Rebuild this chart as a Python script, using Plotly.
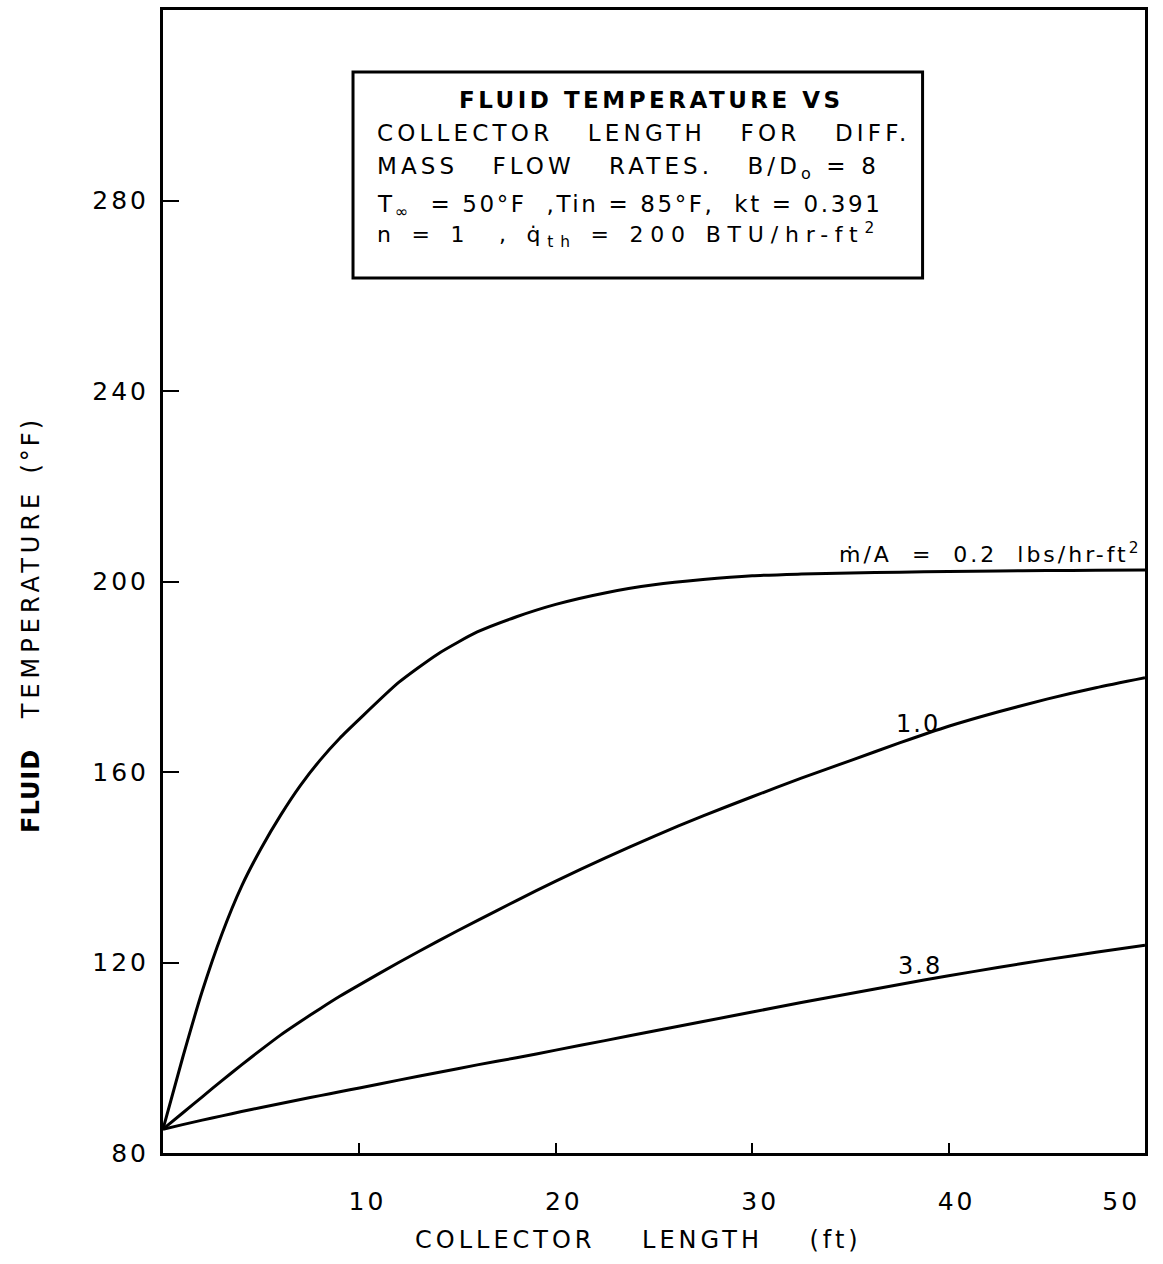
import plotly.graph_objects as go

# Collector length (ft) at which each curve is sampled
length_ft = [0, 1, 2, 3, 4, 5, 6, 7, 8, 9, 10, 12, 14, 16, 18, 20,
             22.5, 25, 27.5, 30, 32.5, 35, 37.5, 40, 42.5, 45, 47.5, 50]

# Fluid temperature (°F) for each mass flow rate (lbs/hr-ft²)
temp_m02 = [85, 100, 114, 126, 136, 144, 151, 157.2, 162.5, 167.1, 171.1,
            178.8, 184.8, 189.4, 192.6, 195.2, 197.6, 199.3, 200.4, 201.2,
            201.55, 201.8, 201.95, 202.1, 202.2, 202.3, 202.35, 202.4]
temp_m10 = [85, 88.4, 91.8, 95.2, 98.5, 101.7, 104.8, 107.6, 110.3, 112.9, 115.3,
            120, 124.5, 128.8, 133.0, 137.1, 141.9, 146.5, 150.8, 154.8,
            158.7, 162.4, 166.1, 169.6, 172.6, 175.3, 177.7, 179.8]
temp_m38 = [85, 85.95, 86.9, 87.8, 88.7, 89.55, 90.4, 91.25, 92.05, 92.85, 93.65,
            95.3, 96.9, 98.5, 100, 101.6, 103.6, 105.6, 107.6, 109.6,
            111.6, 113.5, 115.4, 117.2, 118.95, 120.6, 122.15, 123.6]

x_ticks = [10, 20, 30, 40, 50]
x_tick_text = ["10", "20", "30", "40", "50"]
y_ticks = [80, 120, 160, 200, 240, 280]
y_tick_text = ["80", "120", "160", "200", "240", "280"]

FONT = "DejaVu Sans"
INK = "black"


def spaced(text, px):
    """Wrap text in a span with extra letter spacing (stencil-style lettering)."""
    return f'<span style="letter-spacing:{px}px">{text}</span>'


fig = go.Figure()
for series in (temp_m02, temp_m10, temp_m38):
    fig.add_trace(go.Scatter(
        x=length_ft, y=series, mode="lines",
        line=dict(color=INK, width=3, shape="spline", smoothing=0.6),
        hoverinfo="skip"))

# the last x label is pulled left so it sits inside the right frame edge
x_labels = [spaced(t, 3) for t in x_tick_text]
x_labels[-1] = x_labels[-1] + "\u00a0" * 8

fig.update_layout(
    width=1163, height=1264,
    margin=dict(l=163, r=18, t=10, b=111),
    paper_bgcolor="white", plot_bgcolor="white",
    showlegend=False,
    font=dict(family=FONT, color=INK),
    xaxis=dict(range=[0, 50], tickvals=x_ticks, ticktext=x_labels,
               ticks="inside", ticklen=10, tickwidth=2, tickcolor=INK,
               showline=True, linewidth=3, linecolor=INK, mirror=True,
               showgrid=False, zeroline=False, automargin=False,
               tickfont=dict(size=25, family=FONT), ticklabelstandoff=24,
               ticklabelshift=8, ticklabeloverflow="allow"),
    yaxis=dict(range=[80, 320], tickvals=y_ticks,
               ticktext=[spaced(t, 3) for t in y_tick_text],
               ticks="inside", ticklen=16, tickwidth=2, tickcolor=INK,
               showline=True, linewidth=3, linecolor=INK, mirror=True,
               showgrid=False, zeroline=False, automargin=False,
               tickfont=dict(size=25, family=FONT), ticklabelstandoff=6),
)

# Boxed caption
fig.add_shape(type="rect", xref="paper", yref="paper",
              x0=0.1935, x1=0.7735, y0=0.7655, y1=0.9458,
              line=dict(color=INK, width=3), fillcolor="white")

CAP_X = 0.2154
caption = [
    ("<b>" + spaced("FLUID TEMPERATURE VS", 3.5) + "</b>", 0.497, 0.9213, "center", 23),
    (spaced("COLLECTOR   LENGTH   FOR   DIFF.", 4.2), CAP_X, 0.8924, "left", 23),
    (spaced("MASS   FLOW   RATES.   B/D<sub>o</sub> = 8", 4.1), CAP_X, 0.8618, "left", 23),
    (spaced("T<sub>\u221e</sub>  = 50°F  ,Tin = 85°F,  kt = 0.391", 2.6), CAP_X, 0.8285, "left", 23),
    (spaced("n = 1  , q\u0307<sub>th</sub> = 200 BTU/hr-ft<sup>2</sup>", 6.8), CAP_X, 0.8035, "left", 22),
]
for text, x, y, anchor, size in caption:
    fig.add_annotation(text=text, xref="paper", yref="paper", x=x, y=y,
                       xanchor=anchor, yanchor="middle", showarrow=False,
                       font=dict(size=size, family=FONT, color=INK))

# Curve labels
curve_labels = [
    (spaced("m\u0307/A  =  0.2  lbs/hr-ft<sup>2</sup>", 3), 0.999, 0.5245, "right", 22),
    (spaced("1.0", 2), 0.7685, 0.375, "center", 24),
    (spaced("3.8", 2), 0.7705, 0.164, "center", 24),
]
for text, x, y, anchor, size in curve_labels:
    fig.add_annotation(text=text, xref="paper", yref="paper", x=x, y=y,
                       xanchor=anchor, yanchor="middle", showarrow=False,
                       font=dict(size=size, family=FONT, color=INK))

# Axis titles
fig.add_annotation(text=spaced("COLLECTOR    LENGTH    (ft)", 4),
                   xref="paper", yref="paper",
                   x=0.484, y=-0.0761, xanchor="center", yanchor="middle",
                   showarrow=False, font=dict(size=24, family=FONT, color=INK))
fig.add_annotation(text="<b>" + spaced("FLUID", 1) + "</b>    "
                        + spaced("TEMPERATURE", 5) + "  " + spaced("(°F)", 3),
                   xref="paper", yref="paper",
                   x=-0.1344, y=0.462, xanchor="center", yanchor="middle",
                   textangle=-90, showarrow=False,
                   font=dict(size=24, family=FONT, color=INK))

fig.write_html("out.html")
